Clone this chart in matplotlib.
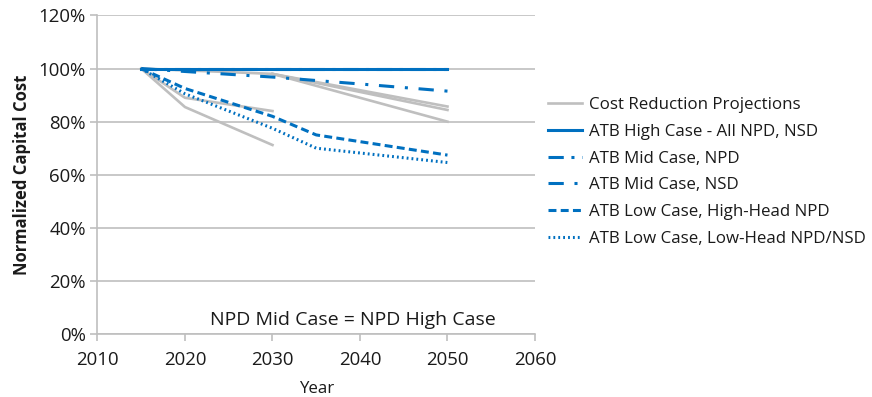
import matplotlib.pyplot as plt
from matplotlib.ticker import PercentFormatter

plt.rcParams['font.family'] = ['Open Sans', 'DejaVu Sans']

# cost reduction projections (grey)
proj_years = [[2015, 2020, 2030], [2015, 2020, 2030],
              [2015, 2030, 2050], [2030, 2050], [2030, 2050]]
proj_values = [[100, 85.5, 71.2], [100, 89, 84],
               [100, 98, 85.7], [98, 84.4], [98, 80]]

# ATB cases
high_years = [2015, 2050]
high_values = [100, 100]
mid_npd_years = [2015, 2050]
mid_npd_values = [100, 100]
mid_nsd_years = [2015, 2020, 2030, 2040, 2050]
mid_nsd_values = [100, 98.9, 96.8, 94.2, 91.5]
low_hh_years = [2015, 2020, 2030, 2035, 2050]
low_hh_values = [100, 92.5, 82, 75, 67.4]
low_lh_years = [2015, 2020, 2030, 2035, 2050]
low_lh_values = [100, 90.5, 77.5, 70, 64.6]

blue = '#0070C0'
grey = '#BFBFBF'
txt = '#1a1a1a'

fig = plt.figure(figsize=(8.72, 3.97), dpi=100)
ax = fig.add_axes([0.1118, 0.1587, 0.5017, 0.8023])

for i, (yrs, vals) in enumerate(zip(proj_years, proj_values)):
    ax.plot(yrs, vals, color=grey, lw=1.9,
            label='Cost Reduction Projections' if i == 0 else None, zorder=2)

ax.plot(mid_npd_years, mid_npd_values, color=blue, lw=2.2, dashes=(5, 2.5, 1, 2.5),
        label='ATB Mid Case, NPD', zorder=3)
ax.plot(high_years, high_values, color=blue, lw=2.2,
        label='ATB High Case - All NPD, NSD', zorder=4)
ax.plot(mid_nsd_years, mid_nsd_values, color=blue, lw=2.2, dashes=(5, 3.5, 1, 3.5),
        label='ATB Mid Case, NSD', zorder=3)
ax.plot(low_hh_years, low_hh_values, color=blue, lw=2.2, dashes=(2.6, 1.4),
        label='ATB Low Case, High-Head NPD', zorder=3)
ax.plot(low_lh_years, low_lh_values, color=blue, lw=2.2, dashes=(0.6, 1.0),
        label='ATB Low Case, Low-Head NPD/NSD', zorder=3)

ax.set_xlim(2010, 2060)
ax.set_ylim(0, 120)
ax.set_xticks(range(2010, 2061, 10))
ax.set_yticks(range(0, 121, 20))
ax.yaxis.set_major_formatter(PercentFormatter(decimals=0))
ax.grid(axis='y', color=grey, lw=1.2)
ax.set_axisbelow(True)
for s in ['top', 'right']:
    ax.spines[s].set_visible(False)
for s in ['left', 'bottom']:
    ax.spines[s].set_color(grey)
    ax.spines[s].set_linewidth(1.2)
ax.tick_params(colors=grey, labelcolor=txt, labelsize=13.4, length=5, width=1.2)
ax.tick_params(axis='x', pad=7)
ax.set_xlabel('Year', fontsize=12.2, color=txt, labelpad=9)
ax.set_ylabel('Normalized Capital Cost', fontsize=12, fontweight='bold',
              color=txt, labelpad=5)

ax.text(2039.2, 5.3, 'NPD Mid Case = NPD High Case', fontsize=14,
        color=txt, ha='center', va='center')

handles, labels = ax.get_legend_handles_labels()
order = ['Cost Reduction Projections', 'ATB High Case - All NPD, NSD',
         'ATB Mid Case, NPD', 'ATB Mid Case, NSD',
         'ATB Low Case, High-Head NPD', 'ATB Low Case, Low-Head NPD/NSD']
hmap = dict(zip(labels, handles))
fig.legend([hmap[l] for l in order], order, loc='center left',
           bbox_to_anchor=(0.628, 0.567), frameon=False, fontsize=12.2,
           handlelength=2.05, handletextpad=0.42, labelspacing=0.63,
           borderpad=0, borderaxespad=0, labelcolor=txt)

fig.savefig('out.png', dpi=100)
